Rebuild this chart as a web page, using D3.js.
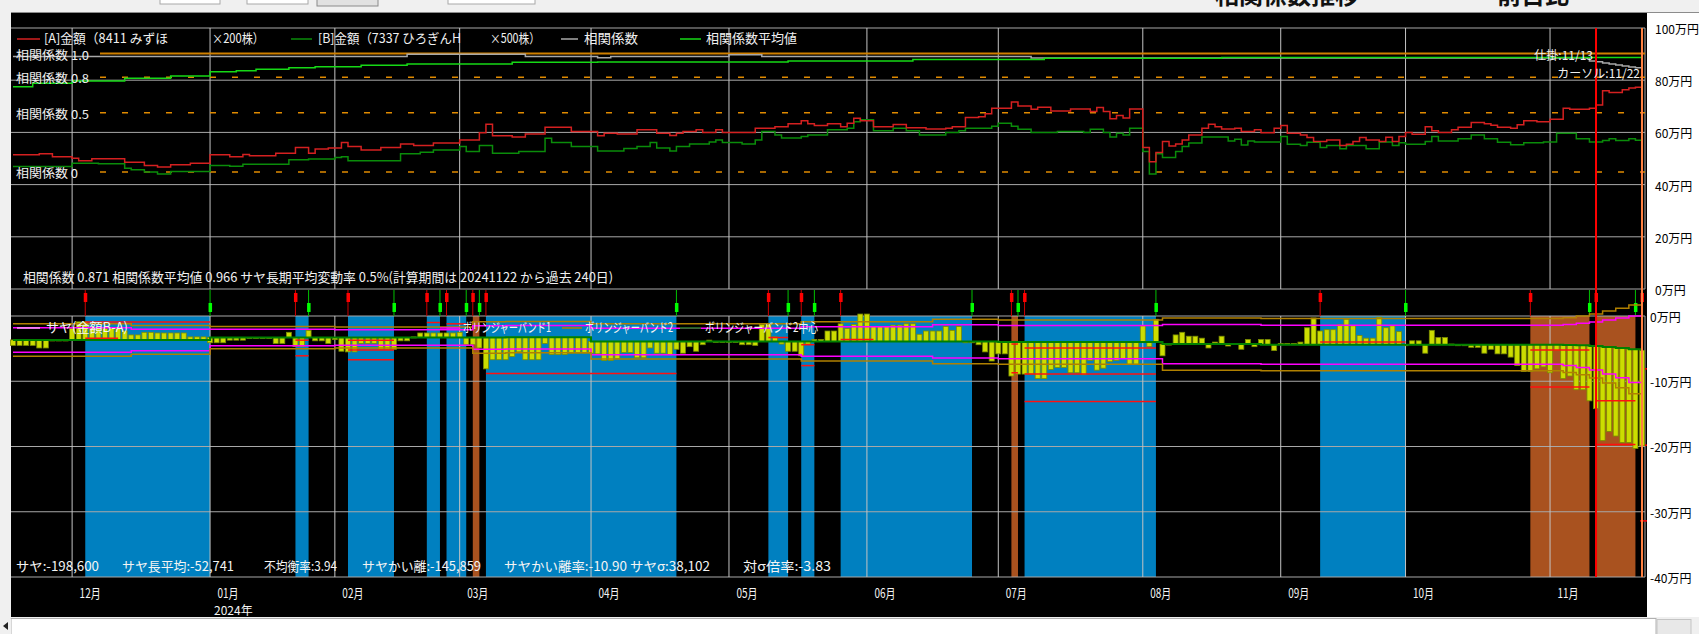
<!DOCTYPE html>
<html>
<head>
<meta charset="utf-8">
<script src="https://cdn.jsdelivr.net/npm/d3@7"></script>
<style>
body { margin: 0; background: #f0f0f0; overflow: hidden; }
text { font-family: "Noto Sans CJK JP", "Noto Sans", sans-serif; }
</style>
</head>
<body>
<svg id="chart" width="1699" height="634"></svg>
<script>
// ---- data ----

// TSE holidays inside the 240 day window
var holidays = ["2023-11-23","2024-01-01","2024-01-02","2024-01-03","2024-01-08","2024-02-12","2024-02-23",
  "2024-03-20","2024-04-29","2024-05-03","2024-05-06","2024-07-15","2024-08-12","2024-09-16","2024-09-23",
  "2024-10-14","2024-11-04"];

// [A]金額 8411 みずほ x200株 (万円), one value per trading day
var amountA = [
  51.4,51.4,51.4,51.4,51.8,51.8,50.7,50.7,50.7,
  50.1,49.1,49.1,49.9,49.9,49.9,49.9,49.9,48.6,48.6,48.6,47.3,47.3,46.7,46.7,47.6,47.6,47.6,48.2,48.2,48.2,
  51.4,51.4,51.4,50.7,50.7,51.5,51.1,51.1,51.1,51.1,52.0,52.0,52.0,54.2,54.2,52.0,53.6,53.6,54.0,
  54.0,56.1,54.6,54.6,53.3,53.3,53.3,54.2,54.2,54.2,55.6,55.6,55.0,55.0,55.0,55.9,55.9,55.9,55.9,
  57.1,57.1,57.1,59.9,63.1,58.7,58.7,58.7,58.2,58.2,59.4,59.4,59.4,62.0,62.0,62.0,62.0,60.3,60.3,60.3,
  60.3,58.7,59.7,59.7,59.4,59.4,59.4,61.0,61.0,61.0,59.7,59.7,58.8,59.7,60.3,60.3,61.0,60.0,60.0,61.0,60.0,
  60.0,60.0,60.0,60.0,61.6,61.6,61.6,62.2,62.2,63.3,63.3,64.5,63.3,62.6,62.6,63.3,63.3,62.2,63.5,65.4,64.5,
  64.5,62.2,62.2,62.2,63.0,63.0,61.8,61.8,61.8,61.3,61.3,61.3,61.6,62.2,62.2,65.7,65.7,66.0,67.1,69.3,
  69.3,69.3,71.6,70.1,70.1,68.9,69.6,69.6,68.2,68.2,68.2,69.0,69.0,69.0,68.0,69.5,68.0,65.2,66.5,65.5,69.0,69.0,
  54.2,48.8,52.3,56.5,54.8,55.6,57.1,59.0,59.0,61.6,63.1,62.2,61.3,61.3,61.6,60.3,60.3,61.0,59.9,59.9,61.6,
  62.6,59.7,59.7,59.0,58.0,56.5,56.5,57.1,57.1,55.0,55.5,56.5,58.0,57.1,57.1,56.5,58.1,56.5,58.4,
  60.0,59.3,59.3,62.2,60.6,60.0,60.0,61.0,62.0,62.0,63.8,63.8,63.3,62.7,62.0,62.0,61.6,62.9,64.5,64.5,64.1,64.1,
  65.0,65.0,69.3,68.9,68.9,68.9,69.3,70.5,76.0,75.3,75.3,76.3,77.0,77.3,77.0
];

// [B]金額 7337 ひろぎんH x500株 (万円)
var amountB = [
  46.9,46.9,46.9,46.9,46.9,46.9,46.9,46.9,46.9,
  48.2,48.2,48.2,48.2,48.0,48.0,48.0,48.0,46.3,45.7,45.7,44.8,44.8,44.1,44.1,45.0,45.0,45.0,45.0,45.0,45.0,
  47.3,47.3,47.3,47.0,47.0,47.8,47.8,47.8,47.8,47.8,47.8,47.8,49.5,49.5,49.5,49.8,49.8,49.8,49.8,
  50.4,50.7,49.1,49.1,49.1,49.1,49.1,49.1,49.1,49.1,51.8,51.8,51.8,52.4,52.4,53.3,53.3,53.3,53.3,
  54.6,52.7,52.7,55.0,55.0,52.0,52.0,52.0,52.0,52.7,52.7,52.7,52.7,57.8,56.1,56.1,56.1,54.6,54.6,54.6,
  54.6,52.9,52.9,52.9,52.9,53.8,53.8,54.6,54.6,56.1,54.0,54.0,52.9,54.6,54.6,55.6,55.6,55.6,56.3,57.1,56.1,
  56.1,56.1,55.6,55.6,57.1,60.3,60.3,59.0,57.9,57.9,57.9,58.4,59.0,59.0,59.0,61.0,61.0,61.0,61.6,64.1,64.8,
  64.8,60.6,60.6,60.6,61.6,61.6,60.6,60.6,59.0,59.0,59.0,59.0,60.0,60.0,60.6,61.6,61.6,61.6,61.6,62.4,
  63.5,63.5,62.4,61.2,61.2,60.0,60.0,60.0,60.0,60.3,60.3,60.3,60.3,60.0,61.2,61.2,60.0,58.2,59.7,59.0,61.6,61.6,
  52.7,44.1,51.8,50.4,50.4,52.7,54.6,55.9,55.9,58.2,58.2,58.2,58.2,56.7,57.4,55.2,56.7,56.3,56.3,56.3,56.3,
  58.4,55.5,55.5,55.0,56.2,56.2,54.2,55.0,55.0,53.7,55.0,55.0,55.0,53.7,53.7,56.3,56.3,55.0,56.0,
  55.5,55.5,55.5,56.5,58.4,56.7,56.7,56.7,57.6,57.6,59.0,59.0,57.6,57.6,56.2,56.2,55.3,55.3,56.0,56.0,56.0,56.3,
  56.3,59.7,59.7,59.7,57.6,57.6,56.3,56.3,56.9,57.6,56.9,56.9,57.6,57.0,57.1
];

// 相関係数 (changes only)
var corrDates  = ["2023-11-17","2024-02-19","2024-03-15","2024-04-02","2024-04-04","2024-05-01","2024-05-10","2024-07-08",
  "2024-11-12","2024-11-13","2024-11-14","2024-11-15","2024-11-18","2024-11-19","2024-11-20","2024-11-21","2024-11-22"];
var corrValues = [0.975,0.993,0.975,0.965,0.975,0.99,0.975,0.963,0.937,0.93,0.92,0.912,0.903,0.895,0.887,0.879,0.871];

// 相関係数平均値 (changes only)
var corrAvgDates  = ["2023-11-17","2023-11-22","2023-12-01","2023-12-13","2023-12-22","2024-01-04","2024-01-11","2024-01-16",
  "2024-01-23","2024-01-29","2024-02-07","2024-02-19","2024-03-13","2024-04-02","2024-05-16","2024-06-12","2024-07-10","2024-08-20"];
var corrAvgValues = [0.72,0.749,0.768,0.791,0.81,0.846,0.855,0.867,0.88,0.889,0.90,0.911,0.926,0.929,0.937,0.949,0.96,0.966];

// サヤ長平均 (band centre) and σ, 万円
var bandDates = ["2023-11-17","2023-12-14","2024-01-04","2024-02-01","2024-03-05","2024-03-12","2024-04-01","2024-05-20",
  "2024-06-17","2024-07-01","2024-08-06","2024-08-28","2024-11-06","2024-11-08","2024-11-12","2024-11-14","2024-11-18",
  "2024-11-20","2024-11-22"];
var centerValues = [-3.67,-3.67,-3.30,-3.30,-3.30,-3.25,-3.9,-3.9,-3.9,-4.0,-4.3,-4.4,-4.45,-4.5,-4.6,-4.75,-4.9,-5.1,-5.27];
var sigmaValues  = [1.25,1.1,0.85,0.8,1.2,1.2,1.35,1.5,1.7,1.7,2.0,2.0,2.1,2.25,2.45,2.75,3.05,3.4,3.81];
var band1K = 1.5, band2K = 2;

// positions: blue / brown periods
var positions = [
  ["2023-12-05","2024-01-04","blue"],["2024-01-24","2024-01-26","blue"],["2024-02-05","2024-02-15","blue"],
  ["2024-02-22","2024-02-27","blue"],["2024-02-28","2024-03-04","blue"],["2024-03-05","2024-03-06","brown"],
  ["2024-03-07","2024-04-18","blue"],["2024-05-13","2024-05-16","blue"],["2024-05-20","2024-05-22","blue"],
  ["2024-05-28","2024-06-25","blue"],["2024-07-03","2024-07-04","brown"],["2024-07-05","2024-08-05","blue"],
  ["2024-09-10","2024-10-01","blue"],["2024-10-29","2024-11-12","brown"],["2024-11-13","2024-11-21","brown"]
];
var entrySignals = ["2023-12-05","2024-01-24","2024-02-05","2024-02-22","2024-02-28","2024-03-05","2024-03-07","2024-05-13",
  "2024-05-20","2024-05-28","2024-07-03","2024-07-05","2024-09-10","2024-10-29","2024-11-13","2024-11-22"];
var exitSignals = ["2024-01-04","2024-01-26","2024-02-15","2024-02-27","2024-03-04","2024-03-06","2024-04-18","2024-05-16",
  "2024-05-22","2024-06-25","2024-07-04","2024-08-05","2024-10-01","2024-11-12","2024-11-21"];

// red target lines during positions: from, to, 万円
var targetLines = [
  ["2023-12-05","2024-01-04",-0.92],["2023-12-05","2023-12-12",-3.4],
  ["2024-01-24","2024-01-26",-3.7],["2024-01-24","2024-01-26",-6.1],
  ["2024-02-05","2024-02-15",-3.7],["2024-02-05","2024-02-15",-5.2],["2024-02-05","2024-02-15",-6.7],
  ["2024-02-22","2024-02-27",-1.0],["2024-02-28","2024-03-04",-1.2],
  ["2024-03-07","2024-04-18",-8.8],
  ["2024-05-13","2024-05-16",-3.3],["2024-05-20","2024-05-22",-4.4],["2024-05-20","2024-05-22",-7.6],
  ["2024-05-28","2024-06-04",-3.6],
  ["2024-07-03","2024-07-04",-4.3],["2024-07-03","2024-07-04",-8.7],
  ["2024-07-05","2024-08-05",-4.9],["2024-07-05","2024-08-05",-8.9],["2024-07-05","2024-08-05",-13.1],
  ["2024-09-10","2024-10-01",-4.0],
  ["2024-10-29","2024-11-12",-5.2],["2024-10-29","2024-11-12",-10.9],
  ["2024-11-13","2024-11-21",-13.0],["2024-11-13","2024-11-21",-19.7]
];
var axisMarks = [-8.1, -19.8, -31.4];

var corrLevels = [1.0, 0.8, 0.5, 0];
var topTicks = [0, 20, 40, 60, 80, 100];
var bottomTicks = [0, -10, -20, -30, -40];
var entryDate = "2024-11-13", cursorDate = "2024-11-22";

var statsTop = "相関係数 0.871 相関係数平均値 0.966 サヤ長期平均変動率 0.5%(計算期間は 20241122 から過去 240日)";
var statsBottom = [
  ["サヤ:-198,600", 16, 83], ["サヤ長平均:-52,741", 122, 112], ["不均衡率:3.94", 264, 73],
  ["サヤかい離:-145,859", 362, 119], ["サヤかい離率:-10.90 サヤσ:38,102", 504, 206], ["対σ倍率:-3.83", 743, 88]
];

// ---- calendar ----

var fmt = d3.utcFormat("%Y-%m-%d");
var tradingDays = d3.utcDay.range(new Date(Date.UTC(2023, 10, 17)), new Date(Date.UTC(2024, 10, 23)))
  .filter(function(d) { var w = d.getUTCDay(); return w != 0 && w != 6 && holidays.indexOf(fmt(d)) < 0; })
  .map(fmt);
var dayIndex = {};
tradingDays.forEach(function(d, i) { dayIndex[d] = i; });
var lastDay = tradingDays[tradingDays.length - 1];
var monthStarts = tradingDays.filter(function(d, i) { return i > 0 && d.slice(5, 7) != tradingDays[i - 1].slice(5, 7); });

// ---- scales ----

var plotL = 11, plotR = 1645;
var x = d3.scalePoint().domain(tradingDays).range([13, 1642]);
var yTop = d3.scaleLinear().domain([0, 100]).range([289, 28]);
var yCorr = d3.scaleLinear().domain([0, 1]).range([172, 53.5]);
var yBot = d3.scaleLinear().domain([-40, 0]).range([577, 316]);

var svg = d3.select("#chart");

// window chrome
svg.append("rect").attr("width", 1699).attr("height", 634).attr("fill", "#f0f0f0");
[[160, 60, 4], [247, 61, 4], [448, 87, 4]].forEach(function(b) {
  svg.append("rect").attr("x", b[0]).attr("y", -2).attr("width", b[1]).attr("height", b[2] + 2)
    .attr("fill", "#fff").attr("stroke", "#a8a8a8");
});
svg.append("rect").attr("x", 317).attr("y", -2).attr("width", 61).attr("height", 8)
  .attr("fill", "#e1e1e1").attr("stroke", "#8a8a8a");
svg.append("text").attr("x", 1215).attr("y", 4).attr("font-size", 24).attr("font-weight", "bold").attr("fill", "#111")
  .text("相関係数推移");
svg.append("text").attr("x", 1497).attr("y", 4).attr("font-size", 24).attr("font-weight", "bold").attr("fill", "#111")
  .text("前日比");
svg.append("rect").attr("x", 0).attr("y", 12).attr("width", 1699).attr("height", 608).attr("fill", "#f0f0f0");
svg.append("rect").attr("x", plotL).attr("y", 13).attr("width", 1636).attr("height", 604).attr("fill", "#000");
svg.append("rect").attr("x", 1647).attr("y", 13).attr("width", 52).attr("height", 604).attr("fill", "#fff");
svg.append("line").attr("x1", plotL).attr("x2", 1699).attr("y1", 12.5).attr("y2", 12.5).attr("stroke", "#8c8c8c");
svg.append("rect").attr("x", 11).attr("y", 618.5).attr("width", 1645).attr("height", 16).attr("fill", "#fff").attr("stroke", "#b0b0b0");
svg.append("rect").attr("x", 0).attr("y", 618.5).attr("width", 11).attr("height", 16).attr("fill", "#f0f0f0");
svg.append("path").attr("d", "M3,626 L8,622 L8,630 Z").attr("fill", "#222");
svg.append("rect").attr("x", 1657).attr("y", 619.5).attr("width", 34).attr("height", 15).attr("fill", "#e8e8e8").attr("stroke", "#c4c4c4");

// position backgrounds
svg.append("g").selectAll("rect").data(positions).enter().append("rect")
  .attr("x", function(d) { return x(d[0]); })
  .attr("width", function(d) { return x(d[1]) - x(d[0]); })
  .attr("y", yBot(0)).attr("height", yBot(-40) - yBot(0))
  .attr("fill", function(d) { return d[2] == "blue" ? "#0080c0" : "#a9521f"; });

// grid
var grid = svg.append("g").attr("stroke-width", 1);
grid.selectAll(".ht").data(topTicks).enter().append("line")
  .attr("x1", plotL).attr("x2", plotR).attr("y1", function(d) { return yTop(d); }).attr("y2", function(d) { return yTop(d); })
  .attr("stroke", "#a8a8a8");
grid.selectAll(".hb").data(bottomTicks).enter().append("line")
  .attr("x1", plotL).attr("x2", plotR).attr("y1", function(d) { return yBot(d); }).attr("y2", function(d) { return yBot(d); })
  .attr("stroke", "#a8a8a8");
[[yTop(100), yTop(0)], [yBot(0), yBot(-40)]].forEach(function(r) {
  grid.selectAll(null).data(monthStarts).enter().append("line")
    .attr("x1", function(d) { return x(d); }).attr("x2", function(d) { return x(d); })
    .attr("y1", r[0]).attr("y2", r[1]).attr("stroke", "#c4c4c4");
  grid.append("line").attr("x1", plotR).attr("x2", plotR).attr("y1", r[0]).attr("y2", r[1]).attr("stroke", "#a8a8a8");
});

// right axes
var axTop = svg.append("g").attr("transform", "translate(1655,0)")
  .call(d3.axisRight(yTop).tickValues(topTicks).tickSize(0).tickPadding(0).tickFormat(function(d) { return d + "万円"; }));
var axBot = svg.append("g").attr("transform", "translate(1650,0)")
  .call(d3.axisRight(yBot).tickValues(bottomTicks).tickSize(0).tickPadding(0).tickFormat(function(d) { return d + "万円"; }));
[axTop, axBot].forEach(function(a) {
  a.select(".domain").remove();
  a.selectAll("text").attr("font-family", "Noto Sans CJK JP").attr("font-size", 12).attr("fill", "#000").attr("dy", "0.45em");
});
svg.selectAll(".axmark").data(axisMarks).enter().append("line")
  .attr("x1", 1640).attr("x2", 1647).attr("y1", function(d) { return yBot(d); }).attr("y2", function(d) { return yBot(d); })
  .attr("stroke", "#ff0000").attr("stroke-width", 1.5);

// correlation reference lines
svg.selectAll(".cref").data(corrLevels).enter().append("line")
  .attr("x1", 100).attr("x2", plotR)
  .attr("y1", function(d) { return yCorr(d); }).attr("y2", function(d) { return yCorr(d); })
  .attr("stroke", function(d) { return d == 1 ? "#d08000" : "#e08a00"; })
  .attr("stroke-width", function(d) { return d == 1 ? 2 : 1.5; })
  .attr("stroke-dasharray", function(d) { return d == 1 ? null : "6,16"; });

function steps(dates, values) {
  var pts = dates.map(function(d, i) { return [d, values[i]]; });
  if (dates[dates.length - 1] != lastDay) pts.push([lastDay, values[values.length - 1]]);
  return pts;
}
function stepLine(y) {
  return d3.line().x(function(d) { return x(d[0]); }).y(function(d) { return y(d[1]); }).curve(d3.curveStepAfter);
}

svg.append("path").attr("d", stepLine(yCorr)(steps(corrDates, corrValues)))
  .attr("fill", "none").attr("stroke", "#a8a8a8").attr("stroke-width", 1.5);
svg.append("path").attr("d", stepLine(yCorr)(steps(corrAvgDates, corrAvgValues)))
  .attr("fill", "none").attr("stroke", "#16d916").attr("stroke-width", 1.5);
svg.append("path").attr("d", stepLine(yTop)(steps(tradingDays, amountB)))
  .attr("fill", "none").attr("stroke", "#0a8c0a").attr("stroke-width", 1.5);
svg.append("path").attr("d", stepLine(yTop)(steps(tradingDays, amountA)))
  .attr("fill", "none").attr("stroke", "#d42020").attr("stroke-width", 1.5);

// correlation labels
svg.selectAll(".clab").data(corrLevels).enter().append("text")
  .attr("x", 16).attr("y", function(d) { return yCorr(d) + 1.5; }).attr("dy", "0.38em")
  .attr("font-size", 12).attr("fill", "#f0f0f0")
  .attr("textLength", function(d) { return d == 0 ? 62 : 73; }).attr("lengthAdjust", "spacingAndGlyphs")
  .text(function(d) { return "相関係数 " + (d == 0 ? "0" : d.toFixed(1)); });

// top legend
var legend = [
  ["line", 17, 40, "#d42020"], ["text", 44, "[A]金額（8411 みずほ", 124], ["text", 212, "×200株）", 52],
  ["line", 291, 312, "#0a8c0a"], ["text", 318, "[B]金額（7337 ひろぎんH", 143], ["text", 490, "×500株）", 50],
  ["line", 561, 578, "#a8a8a8"], ["text", 584, "相関係数", 54],
  ["line", 680, 701, "#16d916"], ["text", 706, "相関係数平均値", 91]
];
legend.forEach(function(l) {
  if (l[0] == "line") {
    svg.append("line").attr("x1", l[1]).attr("x2", l[2]).attr("y1", 39).attr("y2", 39).attr("stroke", l[3]).attr("stroke-width", 1.5);
  } else {
    svg.append("text").attr("x", l[1]).attr("y", 38.5).attr("dy", "0.38em").attr("font-size", 13).attr("fill", "#f0f0f0")
      .attr("textLength", l[3]).attr("lengthAdjust", "spacingAndGlyphs").text(l[2]);
  }
});

svg.append("text").attr("x", 23).attr("y", 277).attr("dy", "0.38em").attr("font-size", 13).attr("fill", "#f0f0f0")
  .attr("textLength", 590).attr("lengthAdjust", "spacingAndGlyphs").text(statsTop);

// signals between panels
svg.selectAll(".sin").data(entrySignals).enter().append("line")
  .attr("x1", function(d) { return x(d); }).attr("x2", function(d) { return x(d); })
  .attr("y1", 290).attr("y2", 316).attr("stroke", "#d00000");
svg.selectAll(".sinr").data(entrySignals).enter().append("rect")
  .attr("x", function(d) { return x(d) - 1.5; }).attr("y", 293).attr("width", 3.5).attr("height", 9).attr("fill", "#ff0000");
svg.selectAll(".sout").data(exitSignals).enter().append("line")
  .attr("x1", function(d) { return x(d); }).attr("x2", function(d) { return x(d); })
  .attr("y1", 290).attr("y2", 316).attr("stroke", "#00c000");
svg.selectAll(".soutr").data(exitSignals).enter().append("rect")
  .attr("x", function(d) { return x(d) - 1.5; }).attr("y", 303).attr("width", 3.5).attr("height", 9).attr("fill", "#00ff00");

// spread bars from the band centre
var bandIdx = bandDates.map(function(d) { return dayIndex[d]; });
function centerAt(d) { return centerValues[d3.bisectRight(bandIdx, dayIndex[d]) - 1]; }
var spread = tradingDays.map(function(d, i) { return { date: d, v: amountB[i] - amountA[i], base: centerAt(d) }; });
svg.append("g").selectAll("rect").data(spread).enter().append("rect")
  .attr("x", function(d) { return x(d.date) - 2.5; }).attr("width", 5)
  .attr("y", function(d) { return yBot(Math.max(d.v, d.base)); })
  .attr("height", function(d) { return Math.max(1, Math.abs(yBot(d.v) - yBot(d.base))); })
  .attr("fill", "#ccdd00").attr("stroke", "#7a8c00").attr("stroke-width", 0.8);

// bollinger bands
[[band2K, "#b08000"], [band1K, "#ff00ff"], [-band1K, "#ff00ff"], [-band2K, "#b08000"]].forEach(function(b) {
  var vals = centerValues.map(function(c, i) { return c + b[0] * sigmaValues[i]; });
  svg.append("path").attr("d", stepLine(yBot)(steps(bandDates, vals)))
    .attr("fill", "none").attr("stroke", b[1]).attr("stroke-width", 1.5);
});
svg.append("path").attr("d", stepLine(yBot)(steps(bandDates, centerValues)))
  .attr("fill", "none").attr("stroke", "#008000").attr("stroke-width", 2);

// target lines
svg.selectAll(".tgt").data(targetLines).enter().append("line")
  .attr("x1", function(d) { return x(d[0]); }).attr("x2", function(d) { return x(d[1]); })
  .attr("y1", function(d) { return yBot(d[2]); }).attr("y2", function(d) { return yBot(d[2]); })
  .attr("stroke", "#ff1010").attr("stroke-width", 1.5);

// bottom legend
[["#ff9cff", 17, 40, "サヤ(金額B-A)", 46, 82], ["#ff00ff", 440, 460, "ボリンジャーバンド1", 463, 88],
 ["#b08000", 562, 582, "ボリンジャーバンド2", 585, 88], ["#008000", 680, 701, "ボリンジャーバンド2中心", 705, 113]]
  .forEach(function(l) {
    svg.append("line").attr("x1", l[1]).attr("x2", l[2]).attr("y1", 328).attr("y2", 328).attr("stroke", l[0]).attr("stroke-width", 1.5);
    svg.append("text").attr("x", l[4]).attr("y", 327).attr("dy", "0.38em").attr("font-size", 13).attr("fill", "#f4f4f4")
      .attr("textLength", l[5]).attr("lengthAdjust", "spacingAndGlyphs").text(l[3]);
  });

svg.selectAll(".sb").data(statsBottom).enter().append("text")
  .attr("x", function(d) { return d[1]; }).attr("y", 566).attr("dy", "0.38em")
  .attr("font-size", 13).attr("fill", "#f4f4f4")
  .attr("textLength", function(d) { return d[2]; }).attr("lengthAdjust", "spacingAndGlyphs")
  .text(function(d) { return d[0]; });

// month axis
var axX = svg.append("g").attr("transform", "translate(0,586)")
  .call(d3.axisBottom(x).tickValues(monthStarts).tickSize(0).tickPadding(0)
    .tickFormat(function(d) { return d.slice(5, 7) + "月"; }));
axX.select(".domain").remove();
axX.selectAll("text").attr("font-family", "Noto Sans CJK JP").attr("font-size", 13).attr("fill", "#f4f4f4")
  .attr("text-anchor", "start").attr("dx", 7).attr("dy", "0.38em").attr("y", 7)
  .attr("textLength", 21).attr("lengthAdjust", "spacingAndGlyphs");
var janTick = monthStarts.filter(function(d) { return d.slice(5, 7) == "01"; })[0];
svg.append("text").attr("x", x(janTick) + 4).attr("y", 610).attr("dy", "0.38em").attr("font-size", 12)
  .attr("fill", "#f4f4f4").text(janTick.slice(0, 4) + "年");

// entry / cursor markers
svg.append("line").attr("x1", x(entryDate)).attr("x2", x(entryDate)).attr("y1", 28).attr("y2", 577)
  .attr("stroke", "#ff0000").attr("stroke-width", 2);
svg.append("line").attr("x1", x(cursorDate)).attr("x2", x(cursorDate)).attr("y1", 28).attr("y2", 577)
  .attr("stroke", "#ff8040").attr("stroke-width", 2);
svg.append("text").attr("x", x(entryDate) - 3).attr("y", 55).attr("dy", "0.38em").attr("text-anchor", "end")
  .attr("font-size", 12).attr("fill", "#f0f0f0").text("仕掛:" + entryDate.slice(5).replace("-", "/"));
svg.append("text").attr("x", x(cursorDate) - 2).attr("y", 73).attr("dy", "0.38em").attr("text-anchor", "end")
  .attr("font-size", 12).attr("fill", "#f0f0f0").text("カーソル:" + cursorDate.slice(5).replace("-", "/"));
</script>
</body>
</html>
